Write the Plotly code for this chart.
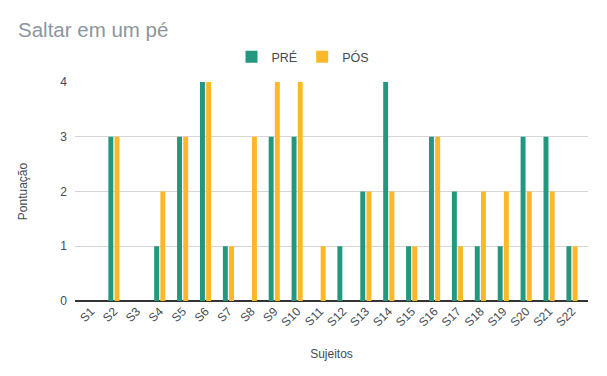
import plotly.graph_objects as go

categories = [f"S{i}" for i in range(1, 23)]
pre = [0, 3, 0, 1, 3, 4, 1, 0, 3, 3, 0, 1, 2, 4, 1, 3, 2, 1, 1, 3, 3, 1]
pos = [0, 3, 0, 2, 3, 4, 1, 3, 4, 4, 1, 0, 2, 2, 1, 3, 1, 2, 2, 2, 2, 1]
y_ticks = [0, 1, 2, 3, 4]

fig = go.Figure()
fig.add_trace(go.Bar(x=categories, y=pre, name="PRÉ", marker_color="#24977f", marker_line_width=0))
fig.add_trace(go.Bar(x=categories, y=pos, name="PÓS", marker_color="#fcb828", marker_line_width=0))

# the page body has an 8px margin, so the figure is 599x368 placed at (8, 8)
W, H = 599, 368
text_col = "#3f4b55"
fig.update_layout(
    width=W, height=H,
    margin=dict(l=67, r=19, t=74, b=75, autoexpand=False),
    paper_bgcolor="white", plot_bgcolor="white",
    font=dict(family="Liberation Sans, Arial, sans-serif", color=text_col, size=12),
    title=dict(text="Saltar em um pé", x=10/W, xref="container", xanchor="left",
               y=1 - 22/H, yref="container", yanchor="middle",
               font=dict(size=20.5, color="#8c969d")),
    legend=dict(orientation="h", x=295/W, xref="container", xanchor="center",
                y=1 - 49/H, yref="container", yanchor="middle",
                font=dict(size=12.5, color=text_col), itemwidth=30),
    barmode="group", bargap=0.46, bargroupgap=0.2,
    xaxis=dict(tickangle=-45, range=[-0.7, 21.7], showgrid=False, ticks="", automargin=False,
               tickfont=dict(size=12, color=text_col),
               title=dict(text="Sujeitos", font=dict(size=12, color=text_col), standoff=21)),
    yaxis=dict(range=[0, 4], tickvals=y_ticks, showgrid=True, gridcolor="#d6d6d6", automargin=False,
               zeroline=True, zerolinecolor="#333333", zerolinewidth=1.5,
               tickfont=dict(size=12, color=text_col), ticklabelstandoff=7,
               title=dict(text="Pontuação", font=dict(size=12, color=text_col), standoff=30)),
)
fig.write_html("out.html")
